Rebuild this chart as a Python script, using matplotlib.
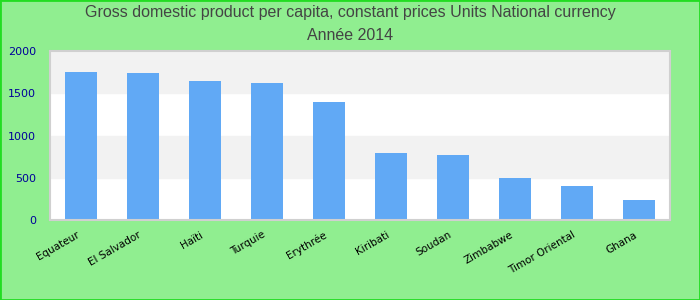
import matplotlib
matplotlib.use("Agg")
import matplotlib.pyplot as plt
from matplotlib.patches import Rectangle

# ---------------- DATA ----------------
countries = ["Equateur", "El Salvador", "Haïti", "Turquie", "Erythrée",
             "Kiribati", "Soudan", "Zimbabwe", "Timor Oriental", "Ghana"]
gdp = [1751, 1740, 1645, 1621, 1396, 793, 769, 497, 402, 237]
y_ticks = [0, 500, 1000, 1500, 2000]
# --------------------------------------

plt.rcParams["font.family"] = ["Liberation Sans", "DejaVu Sans"]

fig = plt.figure(figsize=(7, 3), dpi=100, facecolor="#90ee90")
fig.patches.append(Rectangle((0, 0), 1, 1, transform=fig.transFigure,
                             fill=False, edgecolor="#22dd22", linewidth=2))

# plot area: x 50..670, y 51..220 px
ax = fig.add_axes([50 / 700, 1 - 220 / 300, 620 / 700, 169 / 300])
ax.set_facecolor("white")

# alternating bands
for i in range(len(y_ticks) - 1):
    if i % 2 == 1:
        ax.axhspan(y_ticks[i], y_ticks[i + 1], color="#f2f2f2", zorder=0)

x = range(len(countries))
ax.bar(x, gdp, width=0.52, color="#61a9f5", zorder=2)

ax.set_xlim(-0.5, len(countries) - 0.5)
ax.set_ylim(0, 2000)
ax.set_yticks(y_ticks)
ax.set_yticklabels([str(v) for v in y_ticks], color="#000099", fontsize=8,
                   family=["DejaVu Sans"])
ax.set_xticks(list(x))
ax.set_xticklabels(countries, rotation=30, ha="right", fontsize=7.5,
                   family=["DejaVu Sans"])
ax.tick_params(axis="y", length=0, pad=10)
ax.tick_params(axis="x", length=0, pad=7)

for s in ax.spines.values():
    s.set_color("#d0d0d0")
    s.set_linewidth(1.5)

fig.text(0.5, 1 - 13 / 300, "Gross domestic product per capita, constant prices Units National currency",
         ha="center", va="center", fontsize=11.5, color="#444444")
fig.text(0.5, 1 - 36 / 300, "Année 2014",
         ha="center", va="center", fontsize=11.5, color="#444444")

fig.savefig("out.png", dpi=100, facecolor=fig.get_facecolor())
